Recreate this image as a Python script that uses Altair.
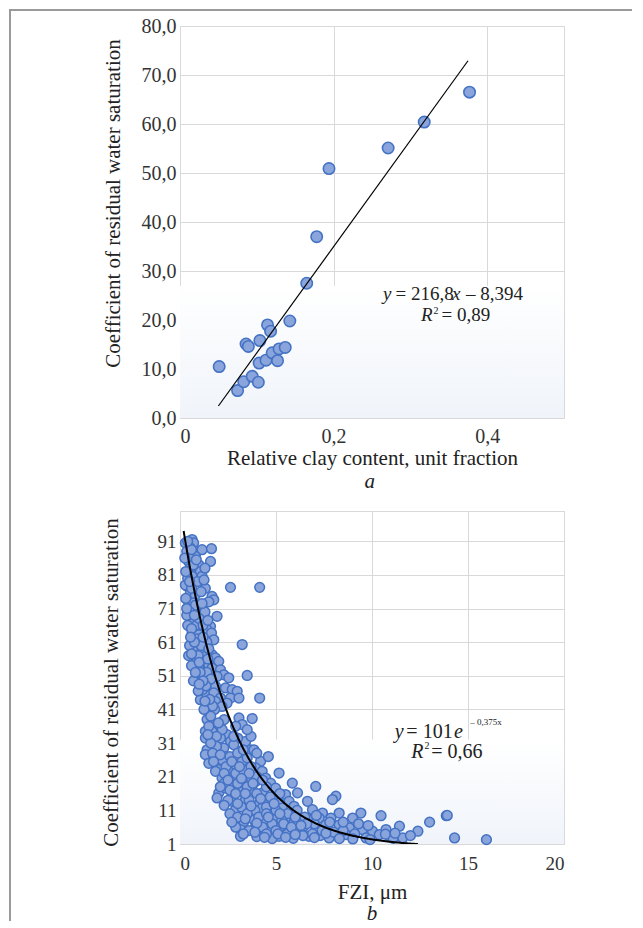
import altair as alt
import pandas as pd

# ---------------- data: panel a ----------------
clay_content = [0.051, 0.075, 0.083, 0.094, 0.102, 0.086, 0.089, 0.104, 0.114, 0.118,
                0.103, 0.112, 0.120, 0.127, 0.129, 0.137, 0.143, 0.165, 0.178, 0.194,
                0.271, 0.318, 0.377]
swr_a = [10.5, 5.6, 7.4, 8.5, 7.3, 15.1, 14.6, 15.8, 19.0, 17.7,
         11.2, 11.8, 13.3, 11.7, 14.1, 14.4, 19.8, 27.5, 37.0, 50.9,
         55.1, 60.4, 66.5]
lin_slope, lin_icpt = 216.8, -8.394
lin_x = [0.05, 0.375]

# ---------------- data: panel b ----------------
fzi_points = [
    (0.28, 90.5), (0.63, 91.5), (0.71, 90.5), (0.54, 89), (0.89, 88), (1.15, 88.5), (1.64, 88.8),
    (0.80, 86.5), (0.45, 85), (1.59, 85), (0.98, 84), (0.54, 83), (0.42, 82), (1.06, 82),
    (1.15, 80.6), (0.63, 80.6), (0.37, 77.6), (0.28, 78), (1.32, 77), (2.63, 77.3), (4.15, 77.3),
    (0.54, 75.6), (0.80, 75), (1.67, 74.6), (1.76, 73.6), (1.50, 73), (0.45, 73), (0.71, 72.7),
    (1.06, 71.7), (0.98, 70.7), (1.24, 70.2), (1.93, 68.7), (0.54, 68.2), (0.71, 66.7), (0.89, 66.2),
    (1.59, 65.7), (1.41, 64.7), (0.63, 63.7), (0.98, 63.2), (1.64, 63.7), (1.76, 61.7), (3.24, 60.3),
    (0.71, 58.8), (1.15, 58.3), (0.80, 56.8), (1.32, 56.8), (1.67, 57.3), (1.85, 56.3), (2.02, 55.3),
    (0.89, 55.3), (1.24, 54.8), (1.50, 54.3), (0.98, 53.3), (1.67, 53.3), (2.11, 52.8), (2.28, 51.3),
    (2.54, 50.4), (3.50, 51.1), (1.93, 50.8), (1.32, 51.3), (1.59, 48.9), (1.85, 47.9), (2.37, 47.4),
    (2.72, 46.9), (2.98, 46.4), (1.15, 45.4), (1.06, 43.9), (1.41, 45.4), (1.76, 45.9), (2.11, 44.4),
    (2.63, 44.4), (3.07, 44.4), (1.85, 43.4), (2.45, 42.9), (4.15, 44.4), (2.19, 41.9), (1.41, 38),
    (1.76, 36.5), (3.07, 38.5), (3.76, 38.3), (3.24, 36.5), (2.11, 35.5), (1.32, 34.5), (1.67, 34.5),
    (2.45, 33.5), (2.63, 31.5), (1.32, 32.5), (2.11, 32.5), (3.42, 31.5), (3.0, 32.5), (1.41, 29),
    (1.32, 27.6), (2.28, 29.5), (2.80, 30.5), (3.68, 29), (3.85, 29), (2.02, 23.1), (1.85, 22.6),
    (2.54, 23.6), (2.89, 24.6), (3.24, 25.6), (3.5, 26.6), (4.2, 25.6), (3.94, 23.6), (4.28, 22.6),
    (5.16, 22.1), (3.15, 22.1), (2.19, 20.6), (2.72, 20.6), (3.59, 20.6), (4.46, 20.6), (2.02, 16.2),
    (1.93, 14.7), (2.80, 18.6), (3.31, 19.1), (3.94, 19.6), (4.72, 19.1), (5.85, 19.1), (7.07, 18.1),
    (2.37, 17.6), (3.07, 16.7), (3.76, 17.2), (4.28, 16.2), (4.98, 17.6), (5.5, 15.7), (6.12, 16.2),
    (8.12, 15.2), (7.94, 14.2), (2.72, 13.7), (3.41, 14.2), (4.15, 13.2), (4.63, 13.7), (5.16, 13.2),
    (5.68, 13.7), (6.64, 13.7), (2.89, 11.2), (3.68, 10.7), (4.28, 11.7), (4.89, 10.7), (5.33, 11.7),
    (5.94, 12.2), (6.9, 11.2), (7.42, 10.2), (8.29, 10.2), (9.42, 10.2), (10.47, 9.4), (13.87, 9.4),
    (2.80, 8.2), (3.33, 7.7), (3.85, 8.2), (4.46, 8.2), (4.98, 8.7), (5.5, 8.7), (6.2, 9.2),
    (6.72, 8.2), (7.25, 8.7), (7.86, 8.7), (8.99, 8.7), (3.15, 5.3), (3.94, 6.3), (4.63, 5.8),
    (5.24, 6.3), (5.76, 5.3), (6.46, 6.3), (7.07, 5.8), (7.59, 6.7), (8.29, 6.7), (8.82, 5.8),
    (9.51, 5.3), (10.03, 4.8), (10.73, 5.3), (11.43, 6.3), (12.39, 4.8), (13.0, 7.5), (3.15, 3.3),
    (4.28, 4.0), (5.16, 3.3), (6.72, 3.3), (7.77, 2.8), (8.64, 3.8), (9.69, 2.8), (10.38, 3.8),
    (10.9, 3.3), (11.6, 2.8), (14.3, 2.8), (15.96, 2.3), (13.92, 9.5),
    (0.35, 88), (0.5, 86), (0.7, 84), (0.4, 80), (0.9, 79), (0.6, 77), (1.1, 76), (0.3, 74),
    (0.8, 72), (1.3, 70), (0.5, 70), (1.0, 68), (0.4, 66), (1.2, 66), (0.9, 62), (1.4, 61),
    (0.5, 60), (1.1, 60), (0.6, 54), (1.4, 52), (1.6, 50), (0.9, 50), (1.2, 47), (1.8, 41),
    (1.6, 39), (2.3, 38), (1.9, 30), (2.4, 27), (1.5, 25), (2.2, 26), (2.6, 27), (3.0, 28),
    (2.4, 24), (2.9, 22), (3.3, 23), (3.7, 24), (4.0, 21), (2.3, 19), (2.6, 17), (3.0, 19),
    (3.5, 18), (4.5, 18), (4.0, 16), (4.7, 15), (5.2, 16), (2.5, 14), (3.2, 12), (3.6, 14),
    (3.9, 11), (4.5, 12), (5.0, 11), (5.6, 10), (6.1, 11), (2.6, 10), (3.0, 9), (3.5, 10),
    (4.1, 9), (4.8, 7), (5.3, 8), (5.9, 7), (6.5, 9), (7.0, 7), (2.9, 6), (3.6, 5), (4.3, 6),
    (5.0, 5), (5.6, 4), (6.2, 5), (6.9, 4), (7.3, 3.5), (8.0, 4.5), (8.5, 5), (9.1, 4),
    (4.0, 3.2), (4.8, 2.6), (5.9, 2.7), (6.4, 3.5), (7.4, 5), (8.3, 2.6), (9.0, 2.5), (9.9, 2.3),
    (11.1, 2.7), (10.7, 3.9), (11.2, 4.2), (12.0, 3.5), (4.6, 27), (4.0, 28), (3.3, 29),
    (2.8, 33), (3.7, 33), (2.2, 35), (2.9, 36), (3.5, 35),
    (0.25, 86), (0.3, 82), (0.6, 88.5), (0.85, 85.5), (1.3, 83), (0.35, 69), (0.6, 65), (0.75, 61),
    (0.45, 57), (0.95, 57), (1.05, 52), (0.7, 49.5), (1.35, 48), (0.95, 46.5), (1.7, 42), (1.25, 41),
    (1.5, 36), (1.9, 33), (1.7, 28), (2.1, 27.5), (1.75, 25.5), (2.3, 22), (2.7, 25.5), (3.1, 24),
    (3.6, 22), (2.5, 20), (3.2, 20.5), (3.8, 19), (4.3, 20), (2.1, 18), (2.9, 16), (3.4, 16),
    (4.2, 14.5), (4.9, 13), (2.3, 12.5), (3.0, 13), (3.7, 12.3), (4.5, 10), (5.2, 10), (2.7, 7.5),
    (3.4, 8.5), (4.0, 7.2), (4.6, 9), (5.4, 7), (6.0, 9), (6.6, 7), (3.3, 4), (3.9, 4.5), (4.5, 4),
    (5.1, 4), (5.8, 6), (6.3, 6.5), (7.1, 9.5), (7.8, 7.5), (8.5, 7.5), (9.3, 7), (9.8, 6.5),
    (4.4, 3), (5.5, 3), (6.0, 3.8), (7.0, 2.9), (7.6, 4.2),
    (0.4, 91), (0.5, 79), (1.25, 79.5), (0.35, 71), (1.15, 72.5), (0.75, 69), (1.45, 67.5),
    (0.55, 62.5), (1.2, 62.5), (1.5, 59), (0.6, 57.5), (1.0, 55), (1.45, 56), (0.8, 52),
    (1.2, 49.5), (1.0, 48.5), (1.55, 44), (1.3, 43.5), (1.6, 31), (1.45, 33.5), (2.0, 37),
]
exp_a, exp_b = 101, -0.375
exp_range = (0.19, 12.4)

# ---------------- styling ----------------
FONT = "Liberation Serif"
PT_FILL = "#8aa4dc"
PT_STROKE = "#4472c4"
GRID = "#d9d9d9"
FRAME = "#9a9a9a"

df_a = pd.DataFrame({"clay": clay_content, "swr": swr_a})
df_lin = pd.DataFrame({"clay": lin_x, "swr": [lin_slope * v + lin_icpt for v in lin_x]})
df_b = pd.DataFrame(fzi_points, columns=["fzi", "swr"])

grad = alt.Gradient(gradient="linear",
                    stops=[alt.GradientStop(color="#ffffff", offset=0),
                           alt.GradientStop(color="#f0f4fa", offset=1)],
                    x1=0, x2=0, y1=0, y2=1)
txt_common = dict(font=FONT, color="#222", baseline="alphabetic")


def text_layers(df, xf, yf, main_size):
    out = []
    for sty, kw in [("i", dict(align="left", fontSize=main_size, fontStyle="italic")),
                    ("n", dict(align="left", fontSize=main_size)),
                    ("s", dict(align="left", fontSize=10)),
                    ("t", dict(align="left", fontSize=9)),
                    ("c", dict(align="center", fontSize=21, fontStyle="italic"))]:
        out.append(alt.Chart(df).transform_filter(f"datum.sty == '{sty}'").mark_text(**kw, **txt_common)
                   .encode(x=f"{xf}:Q", y=f"{yf}:Q", text="txt:N"))
    return out


frame = pd.DataFrame({"k": [0]})

# ---------------- panel a ----------------
xa = alt.X("clay:Q", scale=alt.Scale(domain=[0, 0.5], nice=False, zero=False),
           axis=alt.Axis(values=[0, 0.2, 0.4], tickCount=10, grid=True, gridColor=GRID, domain=False,
                         ticks=False, labelFont=FONT, labelFontSize=20, labelColor="#333", labelPadding=8,
                         labelExpr="datum.value == 0 ? '0' : replace(format(datum.value, '.1f'), '.', ',')",
                         title="Relative clay content, unit fraction", titleFont=FONT, titleFontSize=21,
                         titleFontWeight="normal", titleColor="#222", titlePadding=1))
ya = alt.Y("swr:Q", scale=alt.Scale(domain=[0, 80], nice=False, zero=False),
           axis=alt.Axis(values=list(range(0, 81, 10)), tickCount=20, grid=True, gridColor=GRID,
                         domain=False, ticks=False,
                         labelFont=FONT, labelFontSize=20, labelColor="#333", labelPadding=4,
                         labelOverlap=False,
                         labelExpr="replace(format(datum.value, '.1f'), '.', ',')",
                         title="Coefficient of residual water saturation", titleFont=FONT, titleFontSize=21,
                         titleFontWeight="normal", titleColor="#222", titlePadding=18, titleY=177))

bg_a = alt.Chart(frame).mark_rect(fill=grad).encode(
    x=alt.datum(0), x2=alt.datum(0.5), y=alt.datum(27), y2=alt.datum(0))
pts_a = alt.Chart(df_a).mark_point(shape="circle", filled=True, size=130, fill=PT_FILL, stroke=PT_STROKE,
                                   strokeWidth=1.6, opacity=1).encode(x=xa, y=ya)
line_a = alt.Chart(df_lin).mark_line(color="black", strokeWidth=1.2).encode(x="clay:Q", y="swr:Q")

ann_a = pd.DataFrame({
    "clay": [0.2643, 0.2805, 0.3542, 0.3724, 0.3138, 0.3405, 0.3300, 0.247],
    "swr":  [24.1, 24.1, 24.1, 24.1, 19.8, 19.8, 21.3, -14.3],
    "txt":  ["y", "= 216,8", "x", "– 8,394", "R", "= 0,89", "2", "a"],
    "sty":  ["i", "n", "i", "n", "i", "n", "s", "c"],
})

# figure frame (top and left edges), as thin filled rects
frame_top = alt.Chart(frame).mark_rect(fill=FRAME, stroke=None).encode(
    x=alt.value(-171), x2=alt.value(452), y=alt.value(-17), y2=alt.value(-15))
frame_left = alt.Chart(frame).mark_rect(fill=FRAME, stroke=None).encode(
    x=alt.value(-171), x2=alt.value(-169), y=alt.value(-17), y2=alt.value(895))

panel_a = alt.layer(bg_a, pts_a, line_a, *text_layers(ann_a, "clay", "swr", 19),
                    frame_top, frame_left).properties(width=384, height=392)

# ---------------- panel b ----------------
xb = alt.X("fzi:Q", scale=alt.Scale(domain=[0, 20], nice=False, zero=False),
           axis=alt.Axis(values=[0, 5, 10, 15, 20], tickCount=20, grid=True, gridColor=GRID, domain=False,
                         ticks=False, labelFont=FONT, labelFontSize=19, labelColor="#333", labelPadding=10,
                         format="d",
                         title="FZI, μm", titleFont=FONT, titleFontSize=21,
                         titleFontWeight="normal", titleColor="#222", titlePadding=8))
yb = alt.Y("swr:Q", scale=alt.Scale(domain=[1, 100], nice=False, zero=False),
           axis=alt.Axis(values=[1, 11, 21, 31, 41, 51, 61, 71, 81, 91], tickCount=20, grid=True,
                         gridColor=GRID, domain=False, ticks=False,
                         labelFont=FONT, labelFontSize=19, labelColor="#333", labelPadding=4,
                         labelOverlap=False, format="d",
                         title="Coefficient of residual water saturation", titleFont=FONT, titleFontSize=21,
                         titleFontWeight="normal", titleColor="#222", titlePadding=36, titleY=171))

bg_b = alt.Chart(frame).mark_rect(fill=grad).encode(
    x=alt.datum(0), x2=alt.datum(20), y=alt.datum(32), y2=alt.datum(1))
pts_b = alt.Chart(df_b).mark_point(shape="circle", filled=True, size=95, fill=PT_FILL, stroke=PT_STROKE,
                                   strokeWidth=1.5, opacity=1).encode(x=xb, y=yb)
curve_b = alt.Chart(alt.sequence(exp_range[0], exp_range[1], 0.05, as_="fzi")).transform_calculate(
    swr=f"{exp_a} * exp({exp_b} * datum.fzi)").mark_line(color="black", strokeWidth=2, clip=True).encode(
    x="fzi:Q", y="swr:Q")

ann_b = pd.DataFrame({
    "fzi": [11.18, 11.79, 14.27, 15.12, 12.05, 13.08, 12.74, 10.0],
    "swr": [32.6, 32.6, 32.6, 36.4, 26.65, 26.65, 29.2, -21.6],
    "txt": ["y", "= 101", "e", "– 0,375x", "R", "= 0,66", "2", "b"],
    "sty": ["i", "n", "i", "t", "i", "n", "s", "c"],
})

panel_b = alt.layer(bg_b, pts_b, curve_b, *text_layers(ann_b, "fzi", "swr", 20)).properties(
    width=384, height=333)

chart = alt.vconcat(panel_a, panel_b, spacing=93, bounds="flush").properties(
    padding=0, background="white"
).configure_view(stroke=GRID, strokeWidth=1)

chart.save("out.html", embed_options={"renderer": "svg", "actions": False})
